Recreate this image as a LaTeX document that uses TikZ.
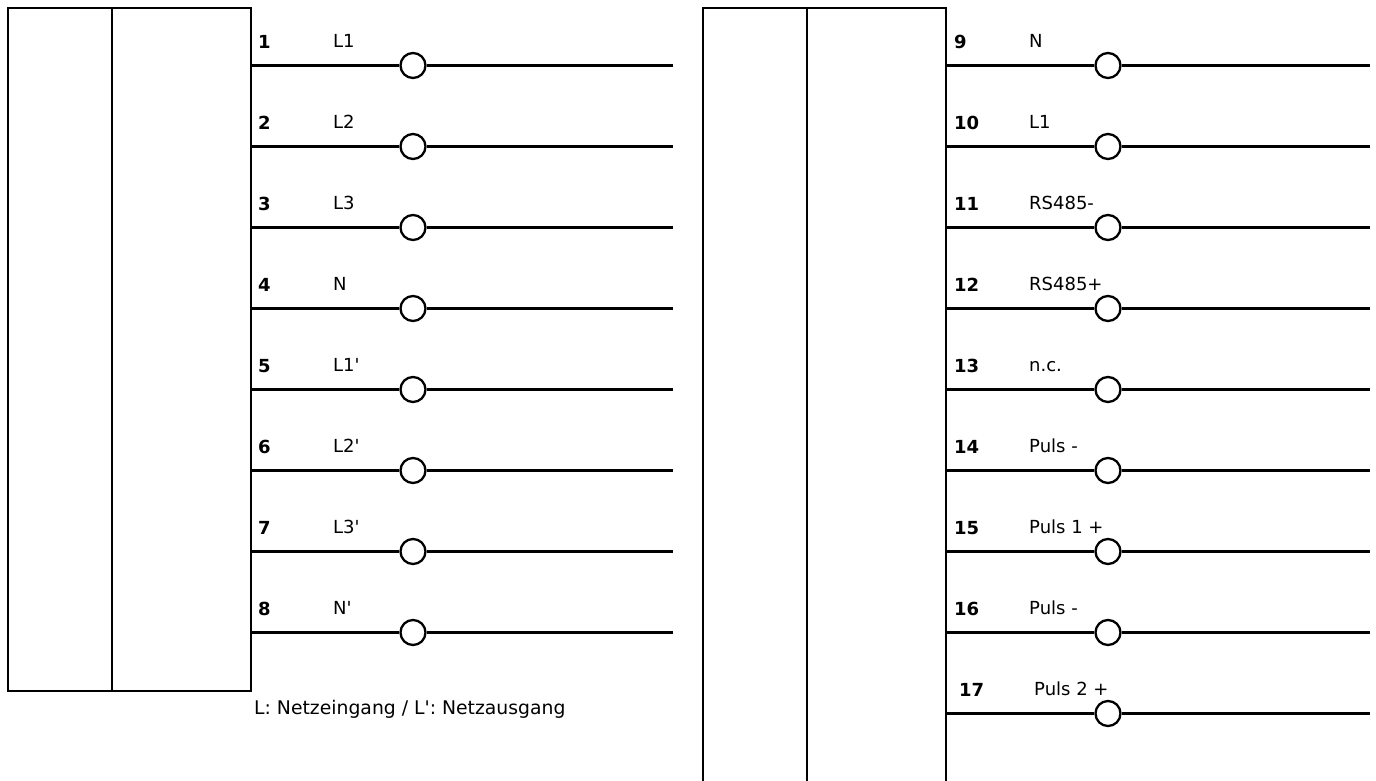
\documentclass[tikz,border=0pt]{standalone}
\usepackage{fontspec}
\setmainfont{DejaVu Sans}[Ligatures=TeXOff]
\tikzset{
  wire/.style={line width=2.3pt,black},
  boxline/.style={line width=2.8pt,black,line cap=rect},
  divider/.style={line width=2.4pt,black},
  term/.style={circle,draw=black,fill=white,line width=2.3pt,minimum size=25pt,inner sep=0pt},
  num/.style={anchor=base west,inner sep=0pt,font=\fontsize{18}{20}\selectfont\bfseries},
  lab/.style={anchor=base west,inner sep=0pt,font=\fontsize{18}{20}\selectfont},
  notelab/.style={anchor=base west,inner sep=0pt,font=\fontsize{18.8}{21}\selectfont}
}
\newcommand{\terminal}[6]{% id, y, numx, num, labx, lab ; uses \boxr \circx \wireend
  \coordinate (s#1) at (\boxr,#2);
  \coordinate (e#1) at (\wireend,#2);
  \node[term] (c#1) at (\circx,#2) {};
  \draw[wire] (s#1) -- (c#1);
  \draw[wire] (c#1) -- (e#1);
  \node[num] (n#1) at (#3,#2-17) {#4};
  \node[lab] (l#1) at (#5,#2-18) {#6};
}
\begin{document}
\begin{tikzpicture}[x=1pt,y=-1pt]
\useasboundingbox (0,0) rectangle (1376,780);
% left block
\coordinate (a1) at (8,8);
\coordinate (a2) at (251,8);
\coordinate (a3) at (251,691);
\coordinate (a4) at (8,691);
\coordinate (a5) at (112,8);
\coordinate (a6) at (112,691);
\draw[boxline] (a1) -- (a2) -- (a3) -- (a4) -- cycle;
\draw[divider] (a5) -- (a6);
\def\boxr{251}\def\circx{413}\def\wireend{673}
\terminal{1}{65.5}{258}{1}{333}{L1}
\terminal{2}{146.5}{258}{2}{333}{L2}
\terminal{3}{227.5}{258}{3}{333}{L3}
\terminal{4}{308.5}{258}{4}{333}{N}
\terminal{5}{389.5}{258}{5}{333}{L1'}
\terminal{6}{470.5}{258}{6}{333}{L2'}
\terminal{7}{551.5}{258}{7}{333}{L3'}
\terminal{8}{632.5}{258}{8}{333}{N'}
\node[notelab] (note) at (254,714) {L: Netzeingang / L': Netzausgang};
% right block
\coordinate (b1) at (703,782);
\coordinate (b2) at (703,8);
\coordinate (b3) at (946,8);
\coordinate (b4) at (946,782);
\coordinate (b5) at (807,8);
\coordinate (b6) at (807,782);
\draw[boxline] (b1) -- (b2) -- (b3) -- (b4);
\draw[divider] (b5) -- (b6);
\def\boxr{946}\def\circx{1108}\def\wireend{1370}
\terminal{9}{65.5}{954}{9}{1029}{N}
\terminal{10}{146.5}{954}{10}{1029}{L1}
\terminal{11}{227.5}{954}{11}{1029}{RS485-}
\terminal{12}{308.5}{954}{12}{1029}{RS485+}
\terminal{13}{389.5}{954}{13}{1029}{n.c.}
\terminal{14}{470.5}{954}{14}{1029}{Puls -}
\terminal{15}{551.5}{954}{15}{1029}{Puls 1 +}
\terminal{16}{632.5}{954}{16}{1029}{Puls -}
\terminal{17}{713.5}{959}{17}{1034}{Puls 2 +}
\end{tikzpicture}
\end{document}
